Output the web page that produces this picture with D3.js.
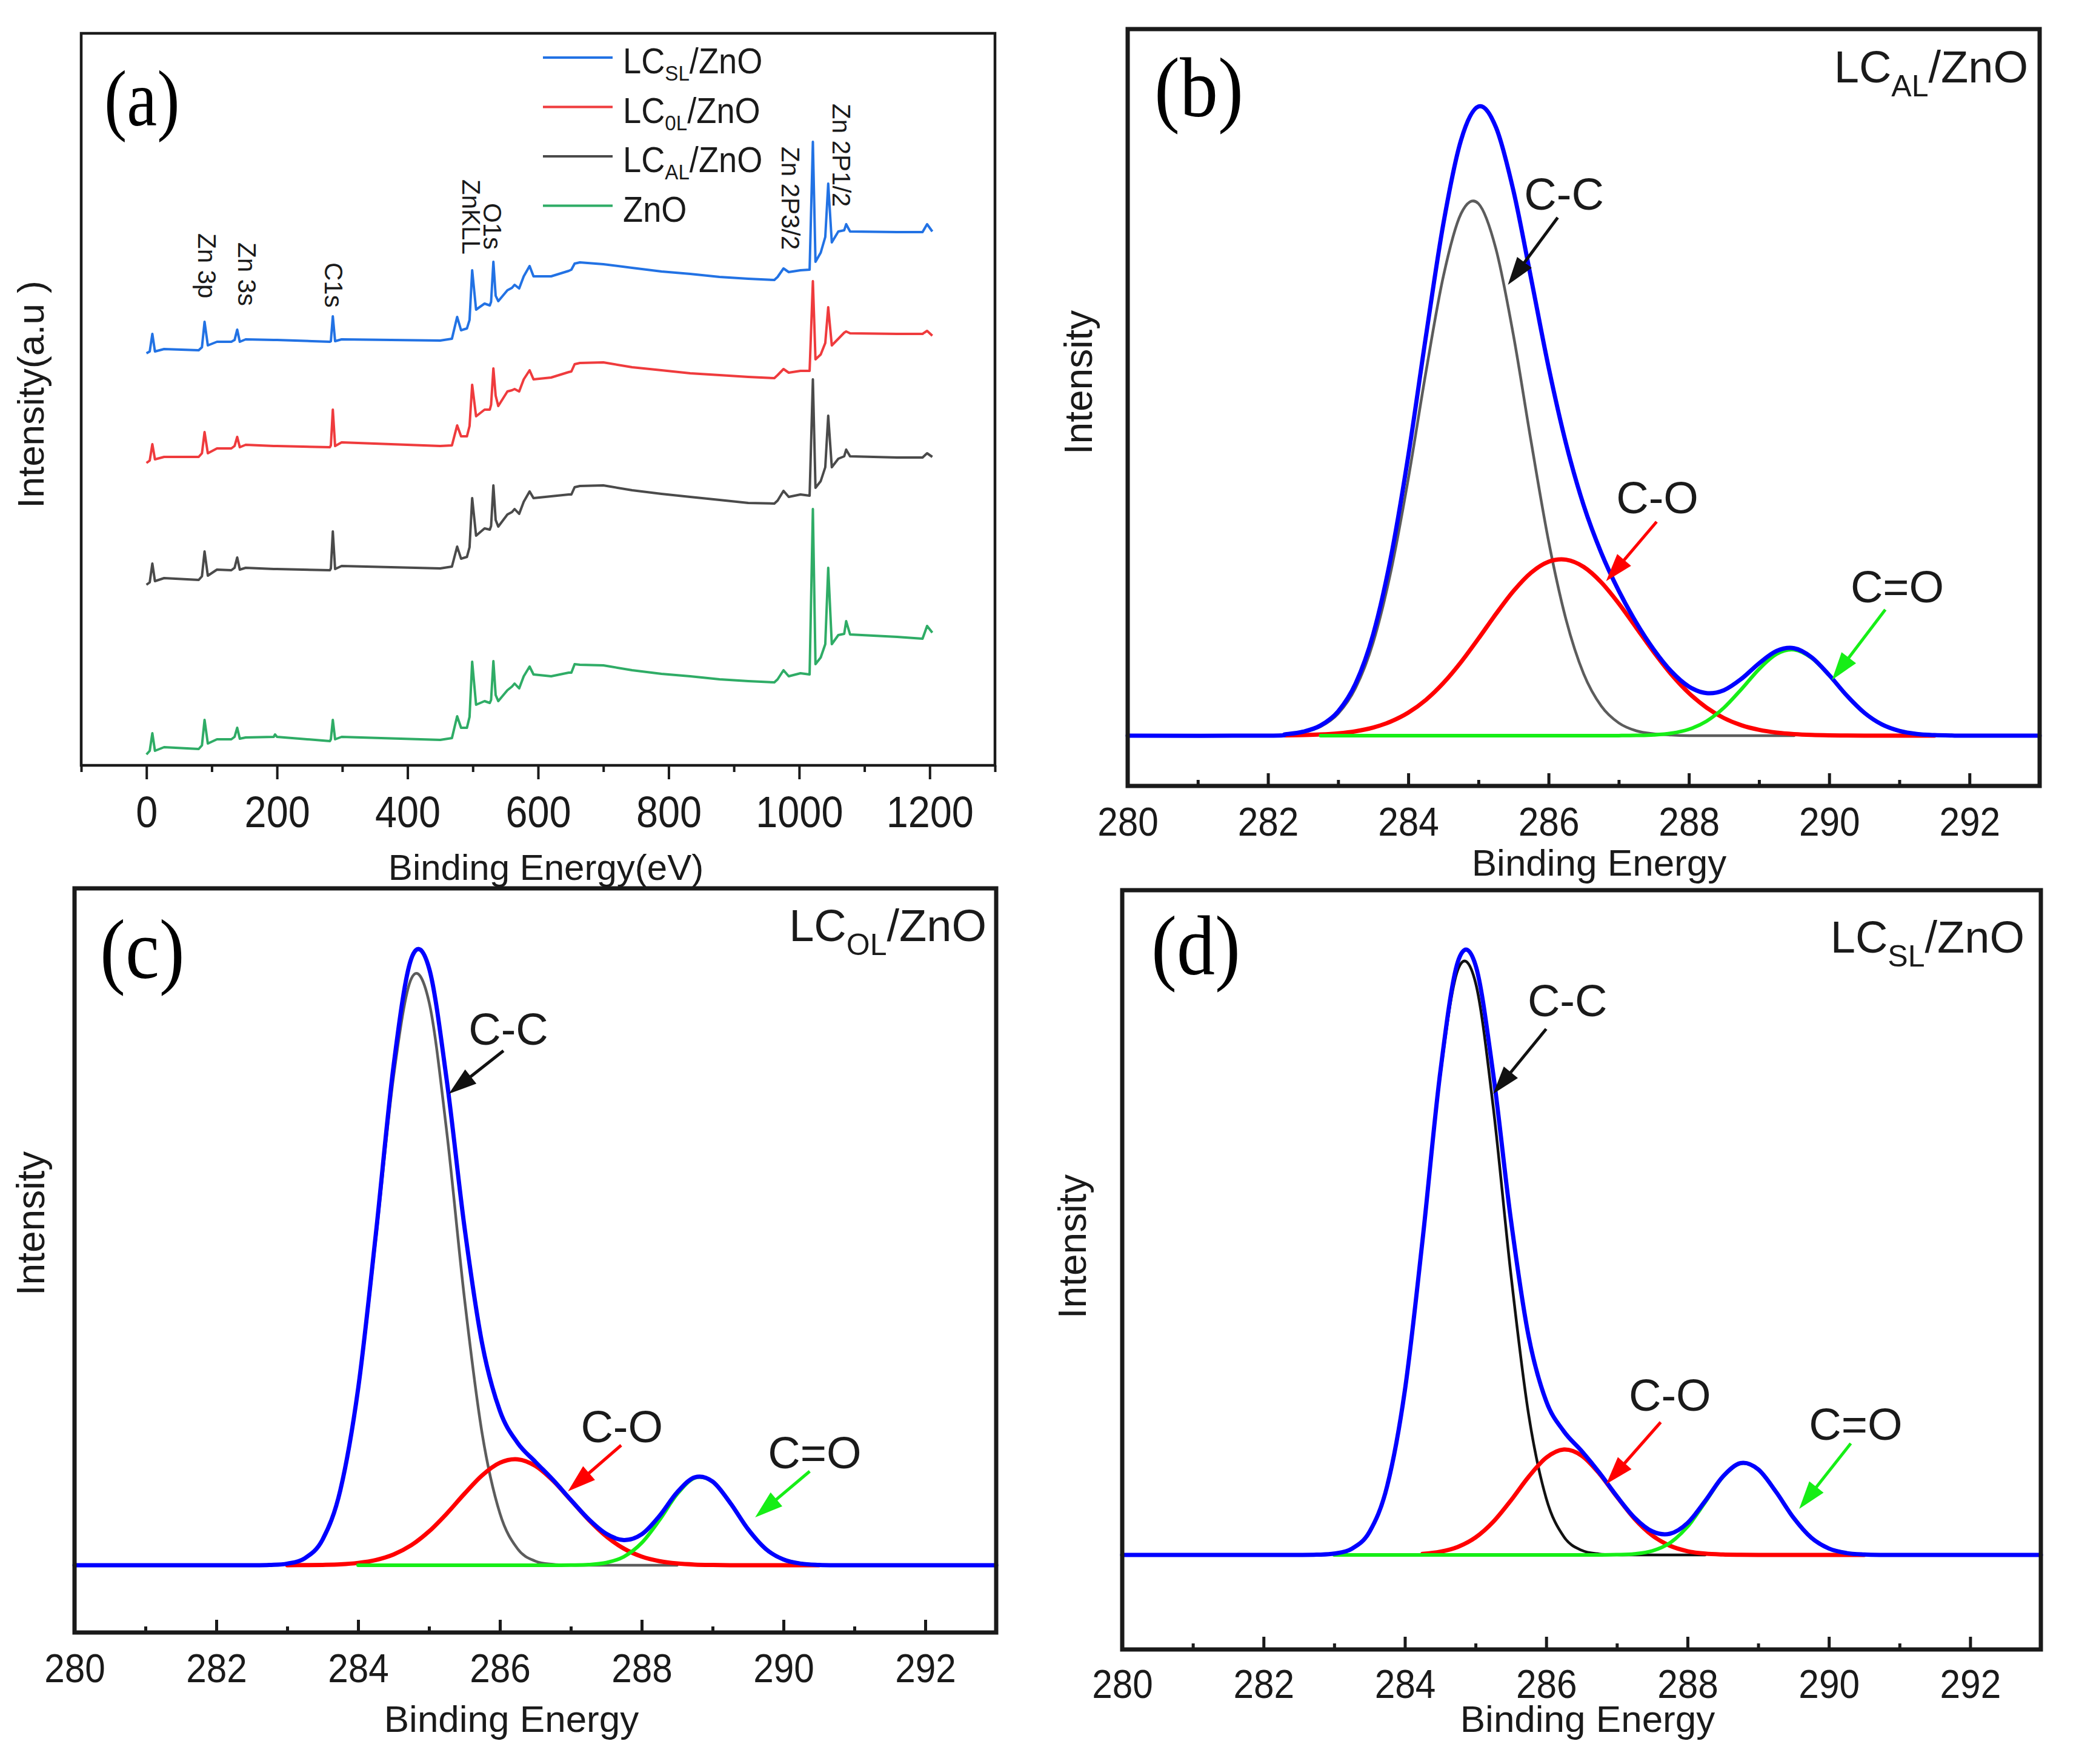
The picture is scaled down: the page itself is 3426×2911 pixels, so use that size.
<!DOCTYPE html>
<html><head><meta charset="utf-8">
<script src="https://cdn.jsdelivr.net/npm/d3@7"></script>
<style>html,body{margin:0;padding:0;background:#fff}</style>
</head><body><svg id="fig"></svg>
<script>
// ================= DATA =================
// (a) survey spectra, binding energy (eV) and stacked intensity (a.u.)
const surveyEnergy = [
0,5,9,13,27,80,85,89,94,108,
130,135,139,143,152,195,197,200,281,282.5,
285.5,289,299,450,468,476,482,491,495,499,
505,518,526,528,531.5,535,539,553,560,564,
571,578,587,593,620,647,651,656,664,700,
744,789,833,878,922,962,967,976,984,1002,
1016,1021,1025,1033,1040,1044.5,1050,1060,1069,1072,
1078,1150,1189,1196,1204];
const surveyLCSL = [
680,683,712,683,687,685,690,732,693,699,
699,702,719,699,703,702,702,702,699,700,
741,700,703,701,704,740,718,721,735,817,
752,762,759,765,831,775,766,784,788,793,
787,807,824,807,807,816,818,828,830,827,
821,815,811,806,803,801,806,820,814,817,
818,1029,831,846,872,960,863,881,883,893,
881,880,880,893,881];
const surveyLC0L = [
499,503,530,505,509,509,515,550,515,523,
523,527,542,525,529,527,527,527,525,528,
587,527,533,527,528,561,543,543,560,628,
576,587,587,595,655,610,593,617,619,621,
617,637,652,637,640,649,650,662,664,665,
657,652,647,644,641,639,644,654,648,651,
651,799,670,678,697,756,693,704,714,716,
713,712,712,717,709];
const surveyLCAL = [
298,302,333,304,309,306,312,353,313,323,
322,326,343,323,326,324,324,324,322,325,
386,324,329,325,328,361,341,344,360,441,
379,391,389,395,462,405,394,414,418,423,
415,435,452,441,444,447,447,459,461,462,
454,448,443,438,433,432,437,453,443,447,
445,637,458,469,492,577,492,506,510,521,
510,508,508,515,509];
const surveyZnO = [
18,24,53,24,30,27,33,75,36,43,
43,47,62,44,46,47,51,47,40,43,
75,43,47,42,45,81,62,62,80,171,
100,106,103,108,172,116,106,124,130,135,
127,147,163,150,147,153,153,167,166,165,
157,151,147,142,139,137,142,157,147,152,
150,423,167,178,200,326,200,215,217,238,
216,212,209,230,219];
const surveyTicks = [0,200,400,600,800,1000,1200];
const surveyMinorTicks = [-100,100,300,500,700,900,1100,1300];
const legendMain = ["LC","LC","LC","ZnO"];
const legendSub  = ["SL","0L","AL",""];
const legendTail = ["/ZnO","/ZnO","/ZnO",""];
const surveyPeakLabels = ["Zn 3p","Zn 3s","C1s","ZnKLL","O1s","Zn 2P3/2","Zn 2P1/2"];
const surveyPeakE = [79.2,140.5,273.2,484,516.5,973.3,1051.3];
const surveyPeakI = [878,863,830,967,928,1021,1092];

// (b)-(d) C1s fits: common energy grid
const c1sEnergy = [280,282,282.25,282.5,282.75,283,283.25,283.5,283.75,284,284.25,284.5,284.75,285,285.25,285.5,285.75,286,286.25,286.5,286.75,287,287.25,287.5,287.75,288,288.25,288.5,288.75,289,289.25,289.5,289.75,290,290.25,290.5,290.75,291,291.25,291.5,291.75,292,293];
const n = null;
// (b) LC_AL/ZnO
const bCC  = [n,0,1.8,5.6,15,36.3,79,154,270,424,599,758,861,878,803,660,486,321,191,102,49,21,8,3,1,0,0,0,0,0,0,0,n,n,n,n,n,n,n,n,n,n,n];
const bCO  = [n,n,0.4,0.9,1.9,3.8,7.3,13.4,23.2,37.9,58.9,86.8,121.1,160.2,200.8,238.7,268.9,287.0,290.4,278.5,253.2,218.2,178.1,137.9,101.1,70.3,46.4,29.0,17.1,9.6,5.1,2.6,1.2,0.5,0.2,0,0,0,0,0,n,n,n];
const bCdO = [n,n,n,n,0,0,0,0,0,0,0,0,0,0,0,0,0,0,0,0,0,0.1,0.4,1.3,4.0,10.5,23.8,46.1,76.8,109.7,134.6,141.7,128.1,99.5,66.3,37.9,18.6,7.9,2.8,0.9,0.2,n,n];
const bFit = [0,0,2.2,6.5,16.9,40.1,86.3,167.4,293.2,461.9,657.9,844.8,982.1,1038.2,1003.8,898.7,754.9,608,481.4,380.1,301.9,239.1,186.5,142,106,81.1,70.2,75.1,93.9,119.3,139.7,144.3,129.3,100,66.3,37.9,18.6,7.9,2.8,0.9,0.2,0,0];
// (c) LC_OL/ZnO
const cCC  = [n,n,n,n,0,2.5,11.5,42.0,122.8,287.3,537.9,806.3,967.9,929.8,715.2,440.3,216.9,85.6,27.0,6.8,1.4,0.2,0,0,0,0,0,0,n,n,n,n,n,n,n,n,n,n,n,n,n,n,n];
const cCO  = [n,n,n,n,n,0.1,0.2,0.6,1.5,3.9,8.7,17.8,33.1,55.8,85.2,118.0,148.4,169.1,174.8,163.9,139.4,107.5,75.2,47.7,27.4,14.3,6.8,2.9,1.1,0.4,0.1,0,0,0,0,0,n,n,n,n,n,n,n];
const cCdO = [n,n,n,n,n,n,n,n,n,0,0,0,0,0,0,0,0,0,0,0,0,0.2,1.0,4.2,14.2,36.8,74.5,117.4,144.1,137.8,102.6,59.5,26.9,9.4,2.6,0.6,n,n,n,n,n,n,n];
const cFit = [0,0,0,0,0.5,2.6,11.7,42.6,124.3,291.2,546.6,824.1,1001,985.6,800.4,558.3,365.3,254.7,201.8,170.7,140.8,107.9,76.2,51.9,41.6,51.1,81.3,120.3,145.2,138.2,102.7,59.5,26.9,9.4,2.6,0.6,0,0,0,0,0,0,0];
// (d) LC_SL/ZnO
const dCC  = [n,n,n,n,n,2.2,10.3,38.3,114.0,271.7,517.8,790.4,965.7,944.4,739.2,463.4,232.5,93.4,30.0,7.7,1.6,0.3,0,0,0,0,0,n,n,n,n,n,n,n,n,n,n,n,n,n,n,n,n];
const dCO  = [n,n,n,n,n,n,n,n,n,n,1.8,5.3,13.3,28.8,54.6,89.9,128.8,160.4,173.9,164.0,134.6,96.1,59.7,32.3,15.2,6.2,2.2,0.7,0.2,0,0,0,0,0,0,0,n,n,n,n,n,n,n];
const dCdO = [n,n,n,n,n,0,0,0,0,0,0,0,0,0,0,0,0,0,0,0,0,0.4,1.8,6.7,19.8,46.6,86.9,128.7,151.3,141.2,104.5,61.4,28.6,10.6,3.1,0.7,n,n,n,n,n,n,n];
const dFit = [0,0,0,0,0.4,2.2,10.3,38.3,114.0,271.7,519.6,795.7,979,973.2,793.8,553.3,361.3,253.8,203.9,171.7,136.2,96.8,61.5,39,35,52.8,89.1,129.4,151.5,141.2,104.5,61.4,28.6,10.6,3.1,0.7,0,0,0,0,0,0,0];

const c1sTicks = [280,282,284,286,288,290,292];
const c1sMinorTicks = [281,283,285,287,289,291];
const peakNames = ["C-C","C-O","C=O"];
const bLabelE = [286.22,287.55,290.97], bLabelI = [868,367,220];
const bArrowTail = [[286.13,855],[287.54,353],[290.80,208]];
const bArrowHead = [[285.42,744],[286.82,255],[290.04,92]];
const cLabelE = [286.12,287.72,290.44], cLabelI = [859,203,160];
const cArrowTail = [[286.05,849],[287.71,198],[290.37,155]];
const cArrowHead = [[285.28,778],[286.96,122],[289.60,79]];
const dLabelE = [286.30,287.75,290.38], dLabelI = [889,238,190];
const dArrowTail = [[286.0,868],[287.62,219],[290.31,184]];
const dArrowHead = [[285.25,761],[286.85,117],[289.58,76]];

// ================= DRAWING =================
const W = 3426, H = 2911;
const SANS = "'Liberation Sans', Arial, Helvetica, sans-serif";
const SERIF = "'Liberation Serif', 'Times New Roman', Times, serif";
const INK = "#1a1a1a";
const svg = d3.select("#fig").attr("width", W).attr("height", H).attr("viewBox", `0 0 ${W} ${H}`);
svg.append("rect").attr("width", W).attr("height", H).attr("fill", "#fff");

function addText(g, x, y, str, size, o = {}) {
  return g.append("text")
    .attr("font-family", o.family || SANS).attr("font-size", size)
    .attr("fill", o.fill || INK).attr("text-anchor", o.anchor || "start")
    .attr("transform", `translate(${x},${y}) rotate(${o.rotate || 0}) scale(${o.sx || 1},1)`)
    .text(str);
}
function subLabel(g, x, y, main, sub, tail, size, subSize, shift, anchor, sx) {
  const t = g.append("text").attr("font-family", SANS).attr("font-size", size)
    .attr("fill", INK).attr("text-anchor", anchor)
    .attr("transform", `translate(${x},${y}) scale(${sx},1)`);
  t.append("tspan").text(main);
  if (sub) {
    t.append("tspan").attr("font-size", subSize).attr("dy", shift).text(sub);
    t.append("tspan").attr("font-size", size).attr("dy", -shift).text(tail);
  }
}

// ---------- Panel (a) ----------
(function () {
  const L = 134, R = 1642, T = 55, B = 1263;
  const x = d3.scaleLinear().domain([-100, 1300]).range([L, R]);
  const y = d3.scaleLinear().domain([0, 1208]).range([B, T]);
  const g = svg.append("g");
  const line = d3.line().x(d => x(d[0])).y(d => y(d[1])).curve(d3.curveLinear);
  const series = [
    { v: surveyLCSL, c: "#2272e4" },
    { v: surveyLC0L, c: "#ef3b3d" },
    { v: surveyLCAL, c: "#4a4a4a" },
    { v: surveyZnO,  c: "#2fac66" }];
  series.forEach(s => {
    g.append("path").datum(surveyEnergy.map((e, i) => [e, s.v[i]]))
      .attr("d", line).attr("fill", "none").attr("stroke", s.c)
      .attr("stroke-width", 4).attr("stroke-linejoin", "round");
  });
  g.append("rect").attr("x", L).attr("y", T).attr("width", R - L).attr("height", B - T)
    .attr("fill", "none").attr("stroke", INK).attr("stroke-width", 4.5);
  const ax = d3.axisBottom(x).tickValues(surveyTicks).tickSizeInner(23).tickSizeOuter(0)
    .tickPadding(28).tickFormat(d3.format("d"));
  const axG = g.append("g").attr("transform", `translate(0,${B})`).call(ax);
  axG.select(".domain").remove();
  axG.selectAll(".tick line").attr("stroke", INK).attr("stroke-width", 4);
  axG.selectAll(".tick text").attr("font-family", SANS).attr("font-size", 72).attr("fill", INK)
    .attr("transform", "scale(0.9,1)");
  const axm = d3.axisBottom(x).tickValues(surveyMinorTicks).tickSizeInner(11).tickSizeOuter(0).tickFormat("");
  const axmG = g.append("g").attr("transform", `translate(0,${B})`).call(axm);
  axmG.select(".domain").remove();
  axmG.selectAll(".tick line").attr("stroke", INK).attr("stroke-width", 4);

  addText(g, 901, 1452, "Binding Energy(eV)", 60, { anchor: "middle" });
  addText(g, 72, 651, "Intensity(a.u )", 62, { anchor: "middle", rotate: -90 });
  addText(g, 172, 207, "(a)", 132, { family: SERIF, sx: 0.85, fill: "#000" });

  surveyPeakLabels.forEach((s, i) => {
    addText(g, x(surveyPeakE[i]), y(surveyPeakI[i]), s, 42, { rotate: 90 });
  });
  // legend
  const lc = ["#2272e4", "#ef3b3d", "#4a4a4a", "#2fac66"];
  legendMain.forEach((m, i) => {
    const ly = 95 + i * 81.5;
    g.append("line").attr("x1", 896).attr("x2", 1011).attr("y1", ly).attr("y2", ly)
      .attr("stroke", lc[i]).attr("stroke-width", 4);
    subLabel(g, 1028, ly + 26, m, legendSub[i], legendTail[i], 59, 36, 12, "start", 0.92);
  });
})();

// ---------- Panels (b)-(d) ----------
function arrow(g, p1, p2, color) {
  const dx = p2[0] - p1[0], dy = p2[1] - p1[1];
  const len = Math.hypot(dx, dy), ux = dx / len, uy = dy / len;
  const hl = 46, hw = 30;
  const bx = p2[0] - ux * hl, by = p2[1] - uy * hl;
  g.append("line").attr("x1", p1[0]).attr("y1", p1[1]).attr("x2", bx + ux * 4).attr("y2", by + uy * 4)
    .attr("stroke", color).attr("stroke-width", 5);
  g.append("path").attr("d",
    `M${p2[0]},${p2[1]} L${bx - uy * hw / 2},${by + ux * hw / 2} L${bx + uy * hw / 2},${by - ux * hw / 2} Z`)
    .attr("fill", color);
}

function fitPanel(cfg) {
  const x = d3.scaleLinear().domain([280, 293]).range([cfg.L, cfg.R]);
  const y = d3.scaleLinear().domain(cfg.yDomain).range([cfg.B, cfg.T]);
  const g = svg.append("g");
  const line = d3.line().defined(d => d[1] !== null).x(d => x(d[0])).y(d => y(d[1]))
    .curve(d3.curveCardinal.tension(0));
  const series = [
    { v: cfg.cc, c: cfg.ccColor, w: 4.5 },
    { v: cfg.co, c: "#ff0000", w: 7 },
    { v: cfg.cdo, c: "#16ee16", w: 6 },
    { v: cfg.fit, c: "#0000ff", w: 7 }];
  series.forEach(s => {
    g.append("path").datum(c1sEnergy.map((e, i) => [e, s.v[i]]))
      .attr("d", line).attr("fill", "none").attr("stroke", s.c).attr("stroke-width", s.w)
      .attr("stroke-linejoin", "round").attr("stroke-linecap", "round");
  });
  g.append("rect").attr("x", cfg.L).attr("y", cfg.T).attr("width", cfg.R - cfg.L).attr("height", cfg.B - cfg.T)
    .attr("fill", "none").attr("stroke", INK).attr("stroke-width", 7);
  const ax = d3.axisBottom(x).tickValues(c1sTicks).tickSizeInner(-21).tickSizeOuter(0)
    .tickPadding(cfg.tickPad).tickFormat(d3.format("d"));
  const axG = g.append("g").attr("transform", `translate(0,${cfg.B})`).call(ax);
  axG.select(".domain").remove();
  axG.selectAll(".tick line").attr("stroke", INK).attr("stroke-width", 5);
  axG.selectAll(".tick text").attr("font-family", SANS).attr("font-size", 67).attr("fill", INK)
    .attr("transform", "scale(0.9,1)");
  const axm = d3.axisBottom(x).tickValues(c1sMinorTicks).tickSizeInner(-10).tickSizeOuter(0).tickFormat("");
  const axmG = g.append("g").attr("transform", `translate(0,${cfg.B})`).call(axm);
  axmG.select(".domain").remove();
  axmG.selectAll(".tick line").attr("stroke", INK).attr("stroke-width", 5);

  addText(g, cfg.xt[0], cfg.xt[1], "Binding Energy", 62, { anchor: "middle" });
  addText(g, cfg.yt[0], cfg.yt[1], "Intensity", 64, { anchor: "middle", rotate: -90 });
  addText(g, cfg.letterPos[0], cfg.letterPos[1], cfg.letter, 140, { family: SERIF, sx: 0.9, fill: "#000" });
  subLabel(g, cfg.samplePos[0], cfg.samplePos[1], cfg.sample[0], cfg.sample[1], cfg.sample[2], 74, 50, 23, "end", 1);

  const arrowColors = ["#111111", "#ff0000", "#16ee16"];
  peakNames.forEach((p, i) => {
    addText(g, x(cfg.labelE[i]), y(cfg.labelI[i]), p, 74, { anchor: "middle" });
    arrow(g, [x(cfg.tail[i][0]), y(cfg.tail[i][1])], [x(cfg.head[i][0]), y(cfg.head[i][1])], arrowColors[i]);
  });
}

fitPanel({ L: 1861, R: 3366, T: 48, B: 1297, yDomain: [-83, 1166], tickPad: 34,
  cc: bCC, co: bCO, cdo: bCdO, fit: bFit, ccColor: "#5c5c5c",
  xt: [2639, 1445], yt: [1802, 631], letter: "(b)", letterPos: [1905, 192],
  sample: ["LC", "AL", "/ZnO"], samplePos: [3347, 136],
  labelE: bLabelE, labelI: bLabelI, tail: bArrowTail, head: bArrowHead });
fitPanel({ L: 123, R: 1644, T: 1466, B: 2694, yDomain: [-111, 1117], tickPad: 34,
  cc: cCC, co: cCO, cdo: cCdO, fit: cFit, ccColor: "#5c5c5c",
  xt: [844, 2858], yt: [73, 2019], letter: "(c)", letterPos: [165, 1614],
  sample: ["LC", "OL", "/ZnO"], samplePos: [1628, 1553],
  labelE: cLabelE, labelI: cLabelI, tail: cArrowTail, head: cArrowHead });
fitPanel({ L: 1852, R: 3368, T: 1469, B: 2722, yDomain: [-156, 1097], tickPad: 32,
  cc: dCC, co: dCO, cdo: dCdO, fit: dFit, ccColor: "#111111",
  xt: [2620, 2858], yt: [1792, 2057], letter: "(d)", letterPos: [1900, 1608],
  sample: ["LC", "SL", "/ZnO"], samplePos: [3341, 1572],
  labelE: dLabelE, labelI: dLabelI, tail: dArrowTail, head: dArrowHead });
</script>
</body></html>
